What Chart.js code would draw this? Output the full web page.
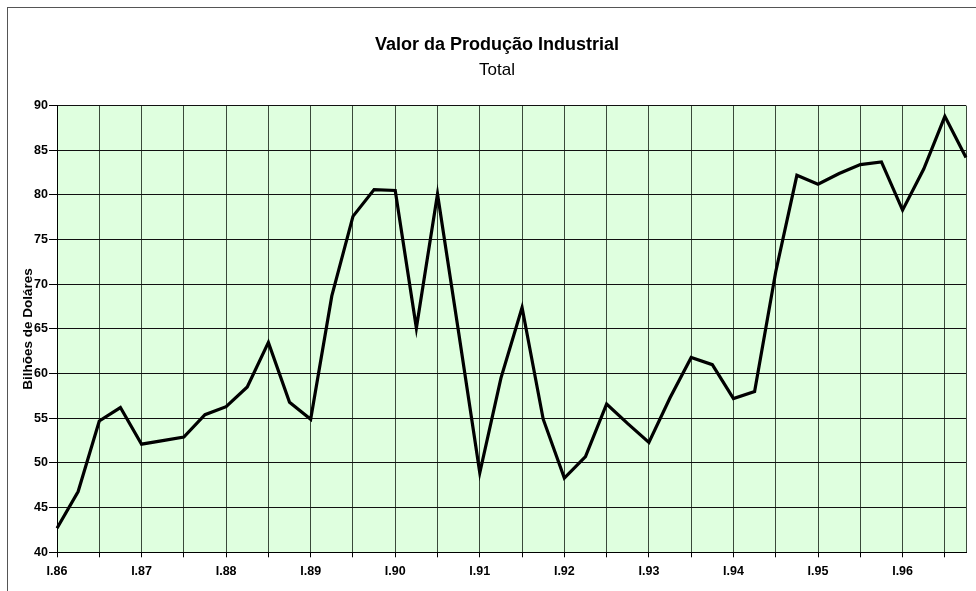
<!DOCTYPE html>
<html>
<head>
<meta charset="utf-8">
<script src="https://cdn.jsdelivr.net/npm/chart.js@4/dist/chart.umd.min.js"></script>
<style>
  html, body { margin: 0; padding: 0; background: #ffffff; overflow: hidden; }
  #wrap { position: absolute; left: 0; top: 0; width: 976px; height: 591px; }
  #frame { position: absolute; left: 7px; top: 7px; width: 1100px; height: 1100px; border: 1px solid #555; box-sizing: border-box; pointer-events: none; }
</style>
</head>
<body>
<div id="frame"></div>
<div id="wrap"><canvas id="c"></canvas></div>
<script>
const years = ['86','87','88','89','90','91','92','93','94','95','96'];
const quarters = ['I','II','III','IV'];
const values = [
  42.7, 46.8, 54.7, 56.2,
  52.1, 52.5, 52.9, 55.4,
  56.3, 58.5, 63.5, 56.8,
  54.9, 68.7, 77.6, 80.6,
  80.5, 65.1, 80.1, 64.6,
  48.9, 59.5, 67.4, 54.9,
  48.3, 50.7, 56.6, 54.4,
  52.3, 57.3, 61.8, 61.0,
  57.2, 58.0, 71.4, 82.2,
  81.2, 82.4, 83.4, 83.7,
  78.3, 82.9, 88.8, 84.2
];
const yTicks = [40, 45, 50, 55, 60, 65, 70, 75, 80, 85, 90];
const chartTitle = 'Valor da Produção Industrial';
const chartSubtitle = 'Total';
const yTitle = 'Bilhões de Doláres';

const labels = [];
years.forEach(y => quarters.forEach(q => labels.push(q + '.' + y)));

const FONT = "'Liberation Sans', Arial, sans-serif";

const plotBg = {
  id: 'plotBg',
  beforeDraw(chart) {
    const {ctx, chartArea: a} = chart;
    ctx.save();
    ctx.fillStyle = '#dfffdf';
    ctx.fillRect(a.left, a.top, a.right - a.left, a.bottom - a.top);
    ctx.restore();
  }
};

new Chart(document.getElementById('c'), {
  type: 'line',
  data: {
    labels: labels,
    datasets: [{
      data: values,
      borderColor: '#000000',
      borderWidth: 3.2,
      pointRadius: 0,
      tension: 0,
      fill: false
    }]
  },
  options: {
    responsive: true,
    maintainAspectRatio: false,
    animation: false,
    layout: { padding: { left: 28, right: 10, top: 0, bottom: 0 } },
    plugins: {
      legend: { display: false },
      tooltip: { enabled: false },
      title: {
        display: true,
        text: chartTitle,
        color: '#000',
        font: { family: FONT, size: 18, weight: 'bold', lineHeight: 1.2 },
        padding: { top: 34.4, bottom: 0 }
      },
      subtitle: {
        display: true,
        text: chartSubtitle,
        color: '#000',
        font: { family: FONT, size: 17, weight: 'normal', lineHeight: 1.2 },
        padding: { top: 4.4, bottom: 24.8 }
      }
    },
    scales: {
      x: {
        type: 'category',
        offset: false,
        afterFit(scale) { scale.height = 38.7; },
        border: { display: true, color: '#000', width: 1 },
        grid: {
          display: true,
          drawOnChartArea: true,
          drawTicks: true,
          tickLength: 5,
          color: (ctx) => (ctx.index % 2 === 0 || ctx.index === labels.length - 1) ? '#3a4a3a' : 'rgba(0,0,0,0)',
          tickColor: (ctx) => (ctx.index % 2 === 0) ? '#000' : 'rgba(0,0,0,0)'
        },
        ticks: {
          autoSkip: false,
          maxRotation: 0,
          minRotation: 0,
          padding: 7,
          color: '#000',
          font: { family: FONT, size: 12.5, weight: 'bold' },
          callback: function(value, index) { return index % 4 === 0 ? labels[index] : ''; }
        }
      },
      y: {
        type: 'linear',
        min: yTicks[0],
        max: yTicks[yTicks.length - 1],
        afterFit(scale) { scale.width = 29; },
        afterBuildTicks(scale) { scale.ticks = yTicks.map(v => ({ value: v })); },
        border: { display: true, color: '#000', width: 1 },
        grid: {
          color: '#111',
          tickColor: '#000',
          tickLength: 8,
          drawTicks: true
        },
        ticks: {
          padding: 1,
          color: '#000',
          font: { family: FONT, size: 12.5, weight: 'bold' }
        },
        title: {
          display: true,
          text: yTitle,
          color: '#000',
          font: { family: FONT, size: 13.5, weight: 'bold', lineHeight: 1.2 },
          padding: { top: -7.7, bottom: 0 }
        }
      }
    }
  },
  plugins: [plotBg]
});
</script>
</body>
</html>
